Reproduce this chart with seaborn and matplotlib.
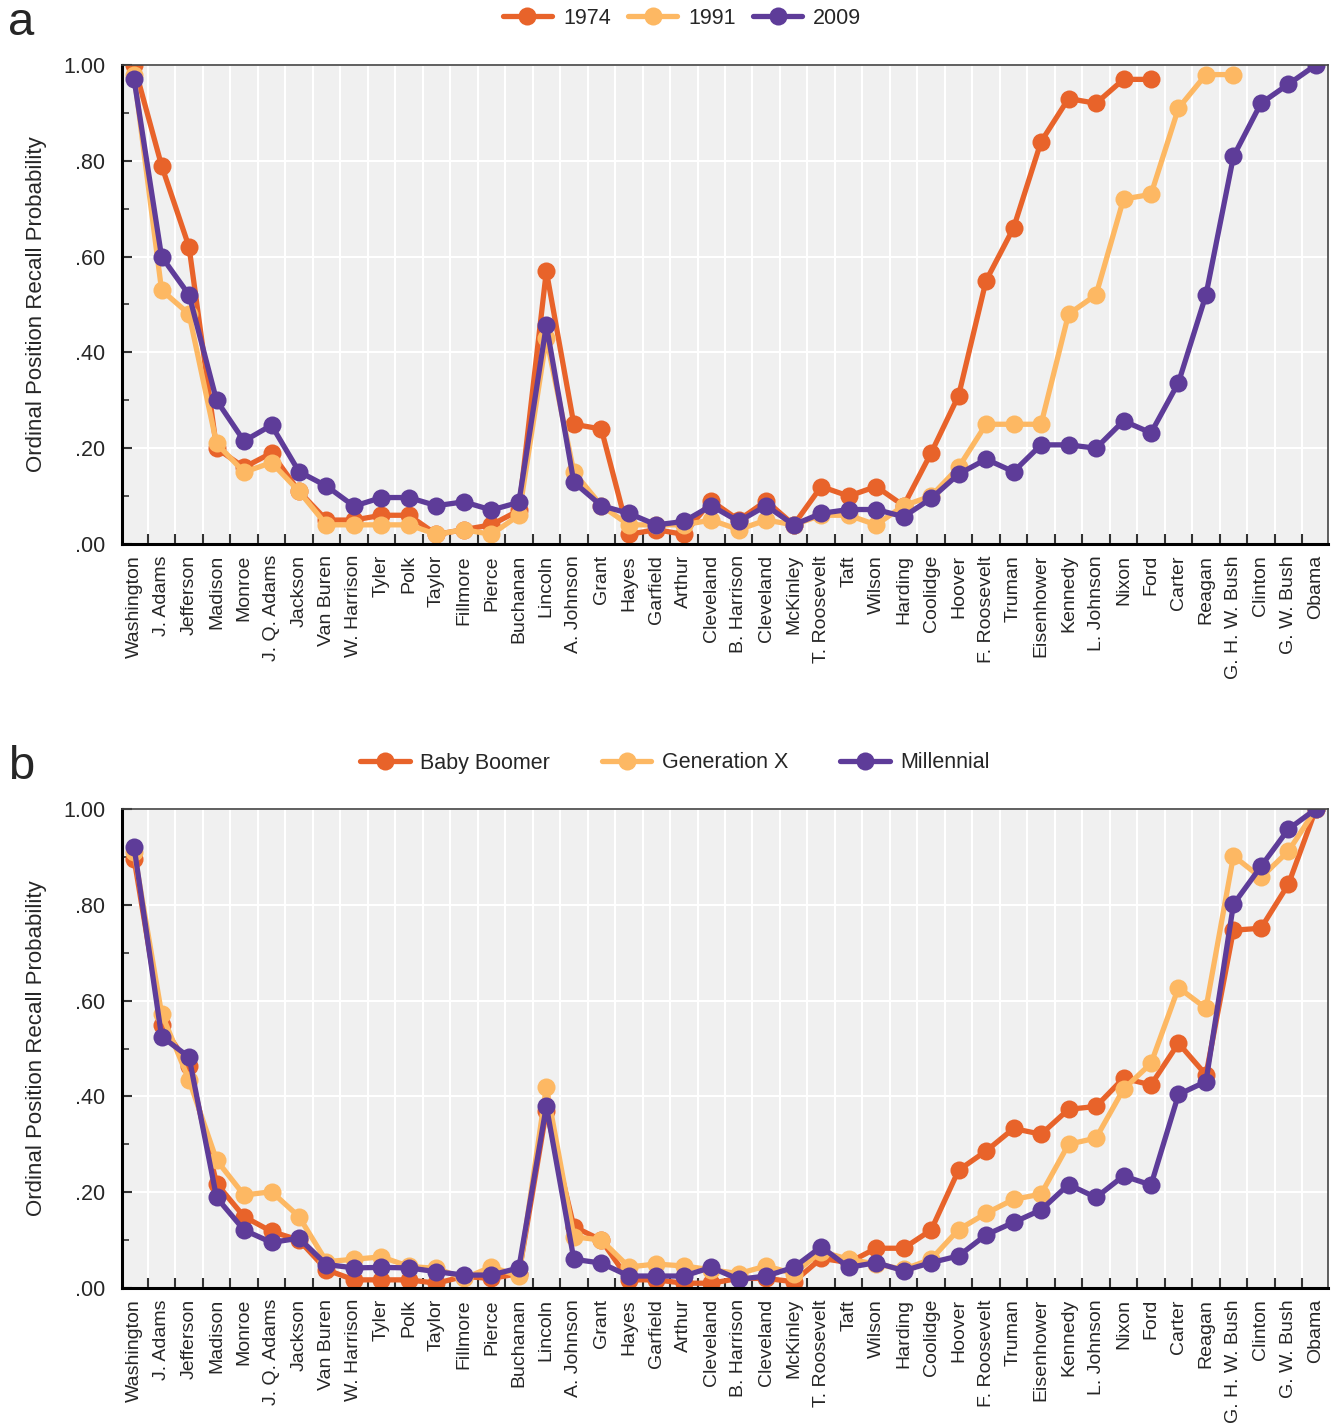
import numpy as np
import pandas as pd
import matplotlib
matplotlib.use("Agg")
import matplotlib.pyplot as plt
from matplotlib.ticker import FixedLocator, FuncFormatter
from matplotlib.lines import Line2D
import seaborn as sns

presidents = ["Washington", "J. Adams", "Jefferson", "Madison", "Monroe", "J. Q. Adams",
              "Jackson", "Van Buren", "W. Harrison", "Tyler", "Polk", "Taylor", "Fillmore",
              "Pierce", "Buchanan", "Lincoln", "A. Johnson", "Grant", "Hayes", "Garfield",
              "Arthur", "Cleveland", "B. Harrison", "Cleveland", "McKinley", "T. Roosevelt",
              "Taft", "Wilson", "Harding", "Coolidge", "Hoover", "F. Roosevelt", "Truman",
              "Eisenhower", "Kennedy", "L. Johnson", "Nixon", "Ford", "Carter", "Reagan",
              "G. H. W. Bush", "Clinton", "G. W. Bush", "Obama"]

nan = np.nan
y1974 = [1.00, 0.79, 0.62, 0.20, 0.16, 0.19, 0.11, 0.05, 0.05, 0.06, 0.06, 0.02, 0.03,
         0.04, 0.07, 0.57, 0.25, 0.24, 0.02, 0.03, 0.02, 0.09, 0.05, 0.09, 0.04, 0.12,
         0.10, 0.12, 0.08, 0.19, 0.31, 0.55, 0.66, 0.84, 0.93, 0.92, 0.97, 0.97,
         nan, nan, nan, nan, nan, nan]
y1991 = [0.98, 0.53, 0.48, 0.21, 0.15, 0.17, 0.11, 0.04, 0.04, 0.04, 0.04, 0.02, 0.03,
         0.02, 0.06, 0.43, 0.15, 0.08, 0.04, 0.04, 0.04, 0.05, 0.03, 0.05, 0.04, 0.06,
         0.06, 0.04, 0.08, 0.10, 0.16, 0.25, 0.25, 0.25, 0.48, 0.52, 0.72, 0.73, 0.91,
         0.98, 0.98, nan, nan, nan]
y2009 = [0.97, 0.60, 0.52, 0.30, 0.215, 0.248, 0.151, 0.121, 0.079, 0.097, 0.097, 0.08,
         0.088, 0.071, 0.087, 0.457, 0.129, 0.08, 0.064, 0.04, 0.047, 0.08, 0.047, 0.08,
         0.04, 0.064, 0.072, 0.072, 0.057, 0.095, 0.146, 0.177, 0.151, 0.207, 0.207,
         0.20, 0.257, 0.232, 0.337, 0.52, 0.809, 0.92, 0.96, 1.00]

boomer = [0.896, 0.55, 0.464, 0.218, 0.149, 0.118, 0.10, 0.038, 0.017, 0.017, 0.017,
          0.01, 0.024, 0.02, 0.03, 0.37, 0.128, 0.10, 0.017, 0.017, 0.01, 0.01, 0.02,
          0.02, 0.013, 0.062, 0.053, 0.083, 0.083, 0.121, 0.246, 0.286, 0.333, 0.321,
          0.373, 0.379, 0.438, 0.424, 0.511, 0.445, 0.747, 0.751, 0.843, 1.00]
genx = [0.911, 0.573, 0.434, 0.267, 0.194, 0.201, 0.149, 0.055, 0.06, 0.065, 0.045,
        0.041, 0.02, 0.044, 0.025, 0.42, 0.107, 0.10, 0.044, 0.05, 0.046, 0.038, 0.03,
        0.046, 0.03, 0.076, 0.06, 0.05, 0.039, 0.06, 0.122, 0.156, 0.185, 0.196, 0.30,
        0.313, 0.415, 0.469, 0.627, 0.584, 0.902, 0.857, 0.912, 1.00]
millennial = [0.921, 0.525, 0.482, 0.189, 0.121, 0.095, 0.104, 0.049, 0.042, 0.043,
              0.042, 0.034, 0.027, 0.027, 0.042, 0.38, 0.06, 0.052, 0.025, 0.025, 0.025,
              0.043, 0.018, 0.025, 0.043, 0.086, 0.043, 0.053, 0.036, 0.053, 0.067,
              0.111, 0.137, 0.163, 0.216, 0.189, 0.234, 0.215, 0.404, 0.431, 0.801,
              0.88, 0.958, 1.00]

labels_a = ["1974", "1991", "2009"]
labels_b = ["Baby Boomer", "Generation X", "Millennial"]
colors = ["#E8632A", "#FDB863", "#5E3C99"]

sns.set_theme(style="white")
plt.rcParams["font.family"] = ["Liberation Sans", "DejaVu Sans"]

def make_df(series, names):
    frames = []
    for vals, name in zip(series, names):
        frames.append(pd.DataFrame({"pos": np.arange(len(presidents)),
                                    "value": vals, "series": name}))
    df = pd.concat(frames, ignore_index=True).dropna()
    return df

fig = plt.figure(figsize=(13.33, 14.25), dpi=100)
W, H = 1333, 1425
ax1 = fig.add_axes([122 / W, 1 - 544 / H, 1206 / W, 479 / H])
ax2 = fig.add_axes([122 / W, 1 - 1288 / H, 1206 / W, 479 / H])

def style(ax, df, names, legend_x, legend_y, colspacing, panel, panel_y):
    ax.set_facecolor("#F0F0F0")
    sns.lineplot(data=df, x="pos", y="value", hue="series", hue_order=names,
                 palette=dict(zip(names, colors)), marker="o", markersize=13,
                 markeredgewidth=0, linewidth=3.8, sort=False, legend=False, ax=ax)
    n = len(presidents)
    ax.set_xlim(-0.44, n - 1 + 0.44)
    ax.set_ylim(0, 1.0)
    ax.set_xticks(np.arange(n))
    ax.set_xticklabels(presidents, rotation=90, ha="center", va="top", fontsize=14)
    ax.xaxis.set_minor_locator(FixedLocator(np.arange(n - 1) + 0.5))
    ax.tick_params(axis="x", which="major", length=0, pad=8)
    ax.tick_params(axis="x", which="minor", direction="in", length=7, width=1.5,
                   color="#333333", bottom=True)
    ax.set_yticks(np.arange(0, 1.01, 0.2))
    ax.yaxis.set_minor_locator(FixedLocator(np.arange(0.1, 1.0, 0.2)))
    ax.yaxis.set_major_formatter(FuncFormatter(
        lambda v, p: "1.00" if v >= 0.999 else ("%.2f" % v)[1:]))
    ax.tick_params(axis="y", which="major", direction="in", length=7, width=1.5,
                   color="#333333", labelsize=15.5, pad=12, left=True)
    ax.tick_params(axis="y", which="minor", direction="in", length=5, width=1.2,
                   color="#333333", left=True)
    ax.grid(False)
    ax.grid(True, axis="y", which="major", color="white", linewidth=1.5)
    ax.grid(True, axis="x", which="minor", color="white", linewidth=1.5)
    ax.set_axisbelow(True)
    ax.set_xlabel("")
    ax.set_ylabel("Ordinal Position Recall Probability", fontsize=16, labelpad=12)
    for s in ["left", "bottom"]:
        ax.spines[s].set_color("black")
        ax.spines[s].set_linewidth(2.2)
    for s in ["top", "right"]:
        ax.spines[s].set_color("#444444")
        ax.spines[s].set_linewidth(1.2)
    handles = [Line2D([0], [0], color=c, lw=3.8, marker="o", markersize=13,
                      markeredgewidth=0) for c in colors]
    fig.legend(handles, names, loc="center", bbox_to_anchor=(legend_x, legend_y),
               ncol=3, frameon=False, fontsize=15.5, handlelength=2.3,
               columnspacing=colspacing, handletextpad=0.5)
    fig.text(8 / W, panel_y, panel, fontsize=34, va="baseline", ha="left")

style(ax1, make_df([y1974, y1991, y2009], labels_a), labels_a,
      682 / W, 1 - 18 / H, 0.8, "a", 1 - 35 / H)
style(ax2, make_df([boomer, genx, millennial], labels_b), labels_b,
      675 / W, 1 - 763 / H, 2.4, "b", 1 - 779 / H)

fig.savefig("out.png", dpi=100)
